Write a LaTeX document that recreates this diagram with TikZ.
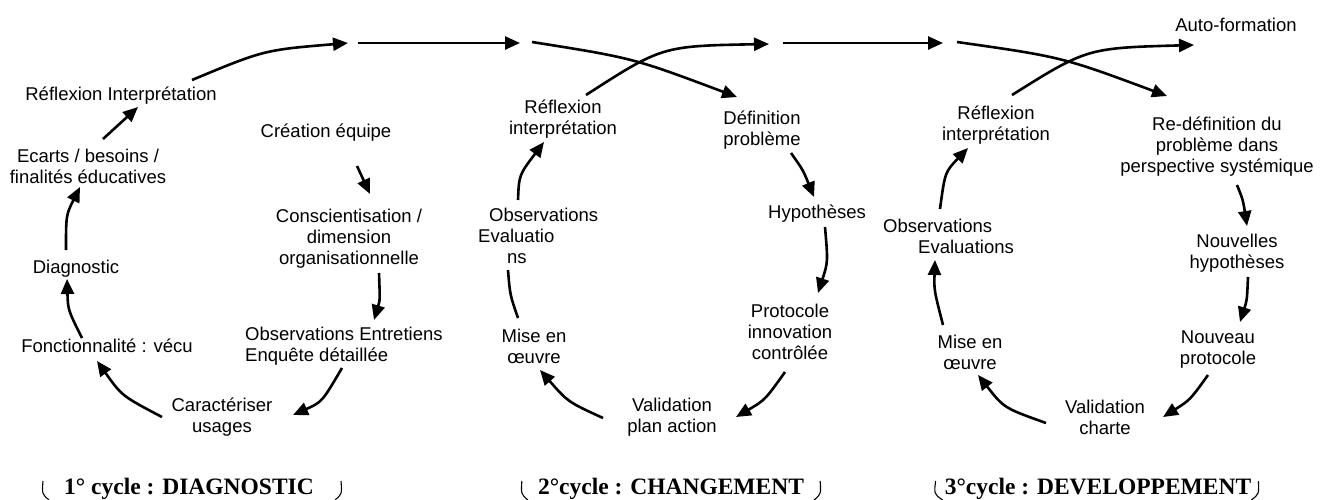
\documentclass[tikz,border=0pt]{standalone}
\usepackage{fontspec}
\setmainfont{Liberation Sans}
\newfontfamily\titlefont{Liberation Serif}
\usetikzlibrary{arrows.meta,calc}
\begin{document}
\begin{tikzpicture}[x=1pt,y=-1pt,
  lbl/.style={font=\fontsize{18.5}{21}\selectfont,align=center,inner sep=0pt},
  lbll/.style={lbl,align=left,anchor=west},
  arr/.style={line width=2.6pt,-{Triangle[length=15pt,width=13pt]}},
  plainline/.style={line width=2.6pt},
  ttl/.style={font=\titlefont\bfseries\fontsize{23.5}{28}\selectfont,inner sep=0pt},
  brk/.style={line width=1.1pt}]
\useasboundingbox (0,0) rectangle (1332,500);

% ---------- cycle 1 ----------
\node[lbl] (ref1) at (121,96) {Réflexion Interprétation};
\node[lbl] (eca) at (88,166) {Ecarts / besoins /\\finalités éducatives};
\node[lbl] (dia) at (76,269) {Diagnostic};
\node[lbl] (fon) at (107,346) {Fonctionnalité : vécu};
\node[lbl] (car) at (222,417) {Caractériser\\usages};
\node[lbll] (obs1) at (245,346) {Observations Entretiens\\Enquête détaillée};
\node[lbl] (con) at (349,239) {Conscientisation /\\dimension\\organisationnelle};
\node[lbl] (cre) at (326,133) {Création équipe};

% ---------- cycle 2 ----------
\node[lbl] (ref2) at (563,119) {Réflexion\\interprétation};
\node[lbl] (def) at (762,130) {Définition\\problème};
\node[lbl] (hyp) at (817,214) {Hypothèses};
\node[lbll] (obs2) at (478,236) {\hspace*{11pt}Observations\\Evaluatio\\\hspace*{29pt}ns};
\node[lbl] (mis2) at (534,346) {Mise en\\œuvre};
\node[lbl] (val2) at (672,417) {Validation\\plan action};
\node[lbl] (pro) at (790,332) {Protocole\\innovation\\contrôlée};

% ---------- cycle 3 ----------
\node[lbl] (auto) at (1236,25) {Auto-formation};
\node[lbl] (ref3) at (996,125) {Réflexion\\interprétation};
\node[lbl] (red) at (1217,147) {Re-définition du\\problème dans\\perspective systémique};
\node[lbl] (nou) at (1237,253) {Nouvelles\\hypothèses};
\node[lbll] (obs3) at (883,236) {Observations\\\hspace*{35pt}Evaluations};
\node[lbl] (mis3) at (970,352) {Mise en\\œuvre};
\node[lbl] (val3) at (1105,417) {Validation\\charte};
\node[lbl] (npr) at (1218,350) {Nouveau\\protocole};

% ---------- titles ----------
\node[ttl] (t1) at (189,489) {1° cycle : DIAGNOSTIC};
\node[ttl] (t2) at (671,489) {2°cycle : CHANGEMENT};
\node[ttl] (t3) at (1098,489) {3°cycle : DEVELOPPEMENT};

% ---------- top row points ----------
\coordinate (p1) at (348,43);
\coordinate (p2) at (358,43);
\coordinate (p3) at (520,43);
\coordinate (p4) at (532,42);
\coordinate (p5) at (769,44);
\coordinate (p6) at (783,43);
\coordinate (p7) at (943,43);
\coordinate (p8) at (957,42);

% ---------- connectors cycle 1 ----------
\draw[arr] ($(car)+(-60,0)$) .. controls (122,396) .. ($(fon)+(-10,15)$);
\draw[arr] ($(fon)+(-25,-8)$) .. controls (68,310) .. ($(dia)+(-9,10)$);
\draw[arr] ($(dia)+(-10,-19)$) .. controls (66,215) .. ($(eca)+(-8,21)$);
\draw[arr] ($(eca)+(15,-27)$) -- ($(ref1)+(17,11)$);
\draw[arr] ($(ref1)+(71,-16)$) .. controls (264,50) .. (p1);
\draw[arr] (p2) -- (p3);
\draw[arr] (p4) .. controls (633,58) .. ($(def)+(-25,-33)$);
\draw[arr] ($(cre)+(31,33)$) -- ($(con)+(21,-45)$);
\draw[arr] ($(con)+(30,34)$) .. controls (380,300) .. ($(obs1.west)+(129,-26)$);
\draw[arr] ($(obs1.west)+(97,22)$) .. controls (322,402) .. ($(car)+(71,-2)$);

% ---------- connectors cycle 2 ----------
\draw[arr] ($(val2)+(-69,1)$) .. controls (568,402) .. ($(mis2)+(6,24)$);
\draw[plainline] ($(mis2)+(-16,-28)$) .. controls (510,295) .. ($(obs2.west)+(30,34)$);
\draw[arr] ($(obs2.west)+(40,-36)$) .. controls (519,175) .. ($(ref2)+(-19,23)$);
\draw[arr] ($(ref2)+(23,-24)$) .. controls (662,46) .. (p5);
\draw[arr] (p6) -- (p7);
\draw[arr] (p8) .. controls (1062,57) .. ($(red)+(-50,-51)$);
\draw[arr] ($(def)+(29,23)$) .. controls (803,170) .. ($(hyp)+(-3,-17)$);
\draw[arr] ($(hyp)+(8,13)$) .. controls (828,262) .. ($(pro)+(28,-39)$);
\draw[arr] ($(pro)+(-5,40)$) .. controls (765,400) .. ($(val2)+(64,0)$);

% ---------- connectors cycle 3 ----------
\draw[arr] ($(ref3)+(16,-30)$) .. controls (1087,48) .. ($(auto)+(-42,20)$);
\draw[arr] ($(red)+(20,38)$) .. controls (1243,200) .. ($(nou)+(10,-27)$);
\draw[arr] ($(nou)+(11,24)$) .. controls (1247,300) .. ($(npr)+(22,-28)$);
\draw[arr] ($(npr)+(-10,25)$) .. controls (1190,400) .. ($(val3)+(58,0)$);
\draw[arr] ($(val3)+(-59,6)$) .. controls (1004,408) .. ($(mis3)+(8,23)$);
\draw[arr] ($(mis3)+(-27,-27)$) .. controls (934,290) .. ($(obs3.west)+(52,24)$);
\draw[arr] ($(obs3.west)+(57,-27)$) .. controls (945,172) .. ($(ref3)+(-28,23)$);

% ---------- title brackets ----------
\draw[brk] ($(t1.west)+(-21,-8)$) .. controls (42,494) .. ($(t1.west)+(-15,11)$);
\draw[brk] ($(t1.east)+(27,-8)$) .. controls (342,494) .. ($(t1.east)+(21,11)$);
\draw[brk] ($(t2.west)+(-16,-8)$) .. controls (521,494) .. ($(t2.west)+(-10,11)$);
\draw[brk] ($(t2.east)+(16,-8)$) .. controls (821,494) .. ($(t2.east)+(10,11)$);
\draw[brk] ($(t3.west)+(-9,-8)$) .. controls (934,494) .. ($(t3.west)+(-2,11)$);
\draw[brk] ($(t3.east)+(7,-8)$) .. controls (1259,494) .. ($(t3.east)+(0,11)$);
\end{tikzpicture}
\end{document}
